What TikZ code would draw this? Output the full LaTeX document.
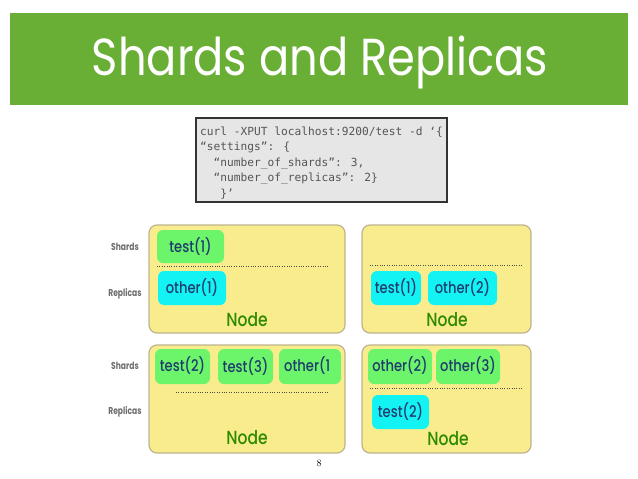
\documentclass[tikz,border=0pt]{standalone}
\usepackage{fontspec}
\setmainfont{Latin Modern Roman}
\newfontfamily\geo[FakeStretch=0.86]{Poppins}
\newfontfamily\geom[FakeStretch=0.82]{Poppins Medium}
\newfontfamily\geob[FakeStretch=0.76]{Poppins Bold}
\newfontfamily\codefont{DejaVu Sans Mono}
\definecolor{banner}{HTML}{6AAF35}
\definecolor{nodefill}{HTML}{F9EC8C}
\definecolor{nodeline}{HTML}{BDB48E}
\definecolor{shardfill}{HTML}{6CF46A}
\definecolor{replfill}{HTML}{14F3F3}
\definecolor{chiptext}{HTML}{1F3C6E}
\definecolor{nodetext}{HTML}{2E8A00}
\definecolor{codefill}{HTML}{E6E6E6}
\definecolor{codeline}{HTML}{333333}
\definecolor{codetext}{HTML}{555555}
\definecolor{sidetext}{HTML}{6E6E6E}
\tikzset{
  hostbox/.style={draw=nodeline, line width=1.2pt, fill=nodefill, rounded corners=8pt},
  shardchip/.style={fill=shardfill, rounded corners=6pt},
  replchip/.style={fill=replfill, rounded corners=6pt},
  chiplabel/.style={text=chiptext, font=\geom\fontsize{16}{16}\selectfont, inner sep=0pt},
  nodelabel/.style={text=nodetext, font=\geom\fontsize{19}{19}\selectfont, inner sep=0pt},
  sidelabel/.style={text=sidetext, font=\geob\fontsize{10}{10}\selectfont, inner sep=0pt},
  sepline/.style={draw=black!70, line width=0.8pt, dash pattern=on 0.8pt off 1.6pt},
  codeline/.style={anchor=base west, text=codetext, font=\codefont\fontsize{11.2}{11.2}\selectfont, inner sep=0pt}
}
\begin{document}
\begin{tikzpicture}[x=1pt,y=-1pt]
\useasboundingbox (0,0) rectangle (638,479);
\fill[white] (0,0) rectangle (638,479);

% title banner
\fill[banner] (10,13) rectangle (628,105);
\node[text=white, font=\geo\fontsize{52}{52}\selectfont, inner sep=0pt] (title) at (320,62) {Shards and Replicas};

% request box
\draw[fill=codefill, draw=codeline, line width=2pt] (196,118) rectangle (447,202);
\node[codeline] (c1) at (200,135) {curl -XPUT localhost:9200/test -d ‘\{};
\node[codeline] (c2) at (200,150.5) {“settings”: \{};
\node[codeline] (c3) at (200,166) {\ \ “number\_of\_shards”: 3,};
\node[codeline] (c4) at (200,181.5) {\ \ “number\_of\_replicas”: 2\}};
\node[codeline] (c5) at (200,197) {\ \ \ \}’};

% row labels
\node[sidelabel] (s1) at (125,247) {Shards};
\node[sidelabel] (r1) at (125,294) {Replicas};
\node[sidelabel] (s2) at (125,366) {Shards};
\node[sidelabel] (r2) at (125,412) {Replicas};

% host boxes
\draw[hostbox] (149,225) rectangle (345,333);
\draw[hostbox] (362,225) rectangle (531,333);
\draw[hostbox] (149,345) rectangle (345,453);
\draw[hostbox] (362,345) rectangle (531,453);

% host 1
\fill[shardchip] (157,230) rectangle (224,263);
\node[chiplabel] (a1) at (190.5,247) {test(1)};
\draw[sepline] (157,266) -- (328,266);
\fill[replchip] (158,271) rectangle (226,305);
\node[chiplabel] (a2) at (192,288) {other(1)};
\node[nodelabel] (n1) at (247,320) {Node};

% host 2
\draw[sepline] (370,265) -- (522,265);
\fill[replchip] (371,271) rectangle (421,305);
\node[chiplabel] (b1) at (396,288) {test(1)};
\fill[replchip] (428,271) rectangle (497,305);
\node[chiplabel] (b2) at (462.5,288) {other(2)};
\node[nodelabel] (n2) at (447,320) {Node};

% host 3
\fill[shardchip] (155,349) rectangle (210,384);
\node[chiplabel] (d1) at (182.5,366) {test(2)};
\fill[shardchip] (218,349) rectangle (273,384);
\node[chiplabel] (d2) at (245.5,367) {test(3)};
\fill[shardchip] (279,349) rectangle (341,384);
\begin{scope}
\clip (279,349) rectangle (341,384);
\node[chiplabel, anchor=west] (d3) at (284,366) {other(1};
\end{scope}
\draw[sepline] (176,392) -- (328,392);
\node[nodelabel] (n3) at (247,438) {Node};

% host 4
\fill[shardchip] (368,349) rectangle (432,384);
\node[chiplabel] (e1) at (400,366) {other(2)};
\fill[shardchip] (436,349) rectangle (500,384);
\node[chiplabel] (e2) at (468,366) {other(3)};
\draw[sepline] (370,388) -- (522,388);
\fill[replchip] (372,395) rectangle (429,429);
\node[chiplabel] (e3) at (400.5,412) {test(2)};
\node[nodelabel] (n4) at (448,439) {Node};

% page number
\node[font=\fontsize{10}{10}\selectfont, inner sep=0pt] (pg) at (319,463) {8};
\end{tikzpicture}
\end{document}
